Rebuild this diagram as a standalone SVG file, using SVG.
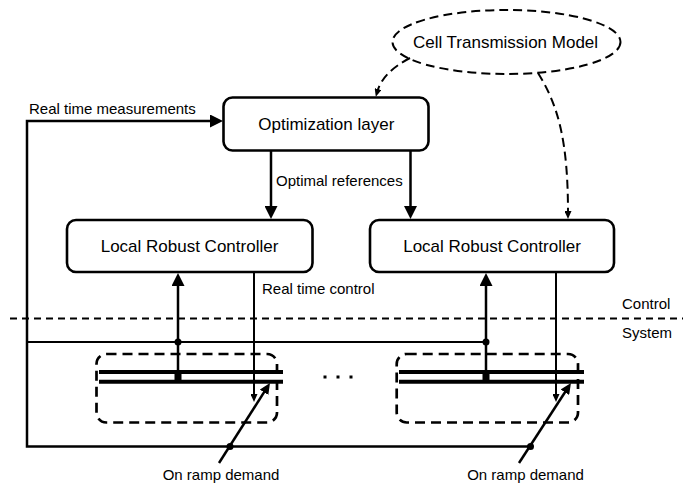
<svg xmlns="http://www.w3.org/2000/svg" width="683" height="483" viewBox="0 0 683 483">
<style>
  .box { fill: #fff; stroke: #000; stroke-width: 2.6; }
  .t17 { font-family: "Liberation Sans", Arial, sans-serif; font-size: 17px; fill: #000; }
  .t15 { font-family: "Liberation Sans", Arial, sans-serif; font-size: 15px; fill: #000; }
  .mid { text-anchor: middle; }
  .ln { fill: none; stroke: #000; stroke-width: 2.5; }
  .thin { fill: none; stroke: #000; stroke-width: 2; }
  .dash { fill: none; stroke: #000; stroke-width: 2; stroke-dasharray: 9 5; }
  .sep { fill: none; stroke: #000; stroke-width: 1.8; stroke-dasharray: 7 5; }
  .cell { fill: none; stroke: #000; stroke-width: 2.7; stroke-dasharray: 10 6; }
  .road { fill: none; stroke: #000; stroke-width: 4; }
  .dot { fill: #000; }
</style>
<defs>
  <marker id="big" viewBox="0 0 13 13" markerWidth="13" markerHeight="13" refX="3" refY="6.5" orient="auto" markerUnits="userSpaceOnUse">
    <path d="M0,0 L13,6.5 L0,13 z" fill="#000"/>
  </marker>
  <marker id="small" viewBox="0 0 8 7" markerWidth="8" markerHeight="7" refX="2" refY="3.5" orient="auto" markerUnits="userSpaceOnUse">
    <path d="M0,0 L8,3.5 L0,7 z" fill="#000"/>
  </marker>
  <marker id="ramp" viewBox="0 0 11 10" markerWidth="11" markerHeight="10" refX="3" refY="5" orient="auto" markerUnits="userSpaceOnUse">
    <path d="M0,0 L11,5 L0,10 z" fill="#000"/>
  </marker>
</defs>
<rect width="683" height="483" fill="#fff"/>

<g id="ctm">
  <ellipse cx="506.5" cy="42" rx="114" ry="32" class="dash"/>
  <text x="505.5" y="48.4" class="t17 mid">Cell Transmission Model</text>
</g>

<g id="optimization">
  <rect x="223.5" y="97.5" width="205" height="53" rx="9" class="box"/>
  <text x="326.3" y="130" class="t17 mid">Optimization layer</text>
</g>

<g id="lrc1">
  <rect x="67" y="220" width="245.5" height="52" rx="9" class="box"/>
  <text x="189.5" y="251.8" class="t17 mid">Local Robust Controller</text>
</g>

<g id="lrc2">
  <rect x="370" y="220" width="244" height="52" rx="9" class="box"/>
  <text x="492" y="251.8" class="t17 mid">Local Robust Controller</text>
</g>

<g id="layers">
  <line x1="10" y1="318.5" x2="683" y2="318.5" class="sep"/>
  <text x="622" y="309.4" class="t15">Control</text>
  <text x="622" y="338" class="t15">System</text>
</g>

<g id="cell1">
  <rect x="96.5" y="354" width="180.5" height="68.5" rx="10" class="cell"/>
  <line x1="99" y1="372" x2="283" y2="372" class="road"/>
  <line x1="99" y1="381.7" x2="283" y2="381.7" class="road"/>
</g>

<g id="cell2">
  <rect x="396.7" y="354" width="181.3" height="68.5" rx="10" class="cell"/>
  <line x1="399" y1="372" x2="584" y2="372" class="road"/>
  <line x1="399" y1="381.7" x2="584" y2="381.7" class="road"/>
</g>

<g id="ellipsis">
  <rect x="323.5" y="375.5" width="3" height="3" class="dot"/>
  <rect x="336.5" y="375.5" width="3" height="3" class="dot"/>
  <rect x="349.5" y="375.5" width="3" height="3" class="dot"/>
</g>

<g id="connectors">
  <path d="M531,446.5 H27 V121 H213" class="ln" marker-end="url(#big)"/>
  <path d="M27,342 H486" class="thin"/>
  <path d="M271,151 V209" class="ln" marker-end="url(#big)"/>
  <path d="M410.5,151 V209" class="ln" marker-end="url(#big)"/>
  <path d="M178,377 V283" class="ln" marker-end="url(#big)"/>
  <path d="M486,377 V283" class="ln" marker-end="url(#big)"/>
  <path d="M254,272 V396" class="thin" marker-end="url(#small)"/>
  <path d="M556,272 V396" class="thin" marker-end="url(#small)"/>
  <path d="M410,58 Q383,72 377.5,91" class="dash" marker-end="url(#small)"/>
  <path d="M538,73 C558,105 568,140 568,213" class="dash" marker-end="url(#small)"/>
  <path d="M219,463 L265.7,389.7" class="ln" stroke-width="3.2" marker-end="url(#ramp)"/>
  <path d="M519,463 L566.6,389.7" class="ln" stroke-width="3.2" marker-end="url(#ramp)"/>
  <circle cx="178" cy="342" r="3.5" class="dot"/>
  <circle cx="486" cy="342" r="3.5" class="dot"/>
  <rect x="174.5" y="372" width="7" height="10" class="dot"/>
  <rect x="482.5" y="372" width="7" height="10" class="dot"/>
  <circle cx="230" cy="446.5" r="3.5" class="dot"/>
  <circle cx="530.5" cy="446.5" r="3.5" class="dot"/>
  <text x="262" y="294.4" class="t15">Real time control</text>
  <text x="29" y="114.4" class="t15">Real time measurements</text>
  <text x="276" y="186.4" class="t15">Optimal references</text>
  <text x="221" y="479.5" class="t15 mid">On ramp demand</text>
  <text x="525.5" y="479.5" class="t15 mid">On ramp demand</text>
</g>
</svg>
